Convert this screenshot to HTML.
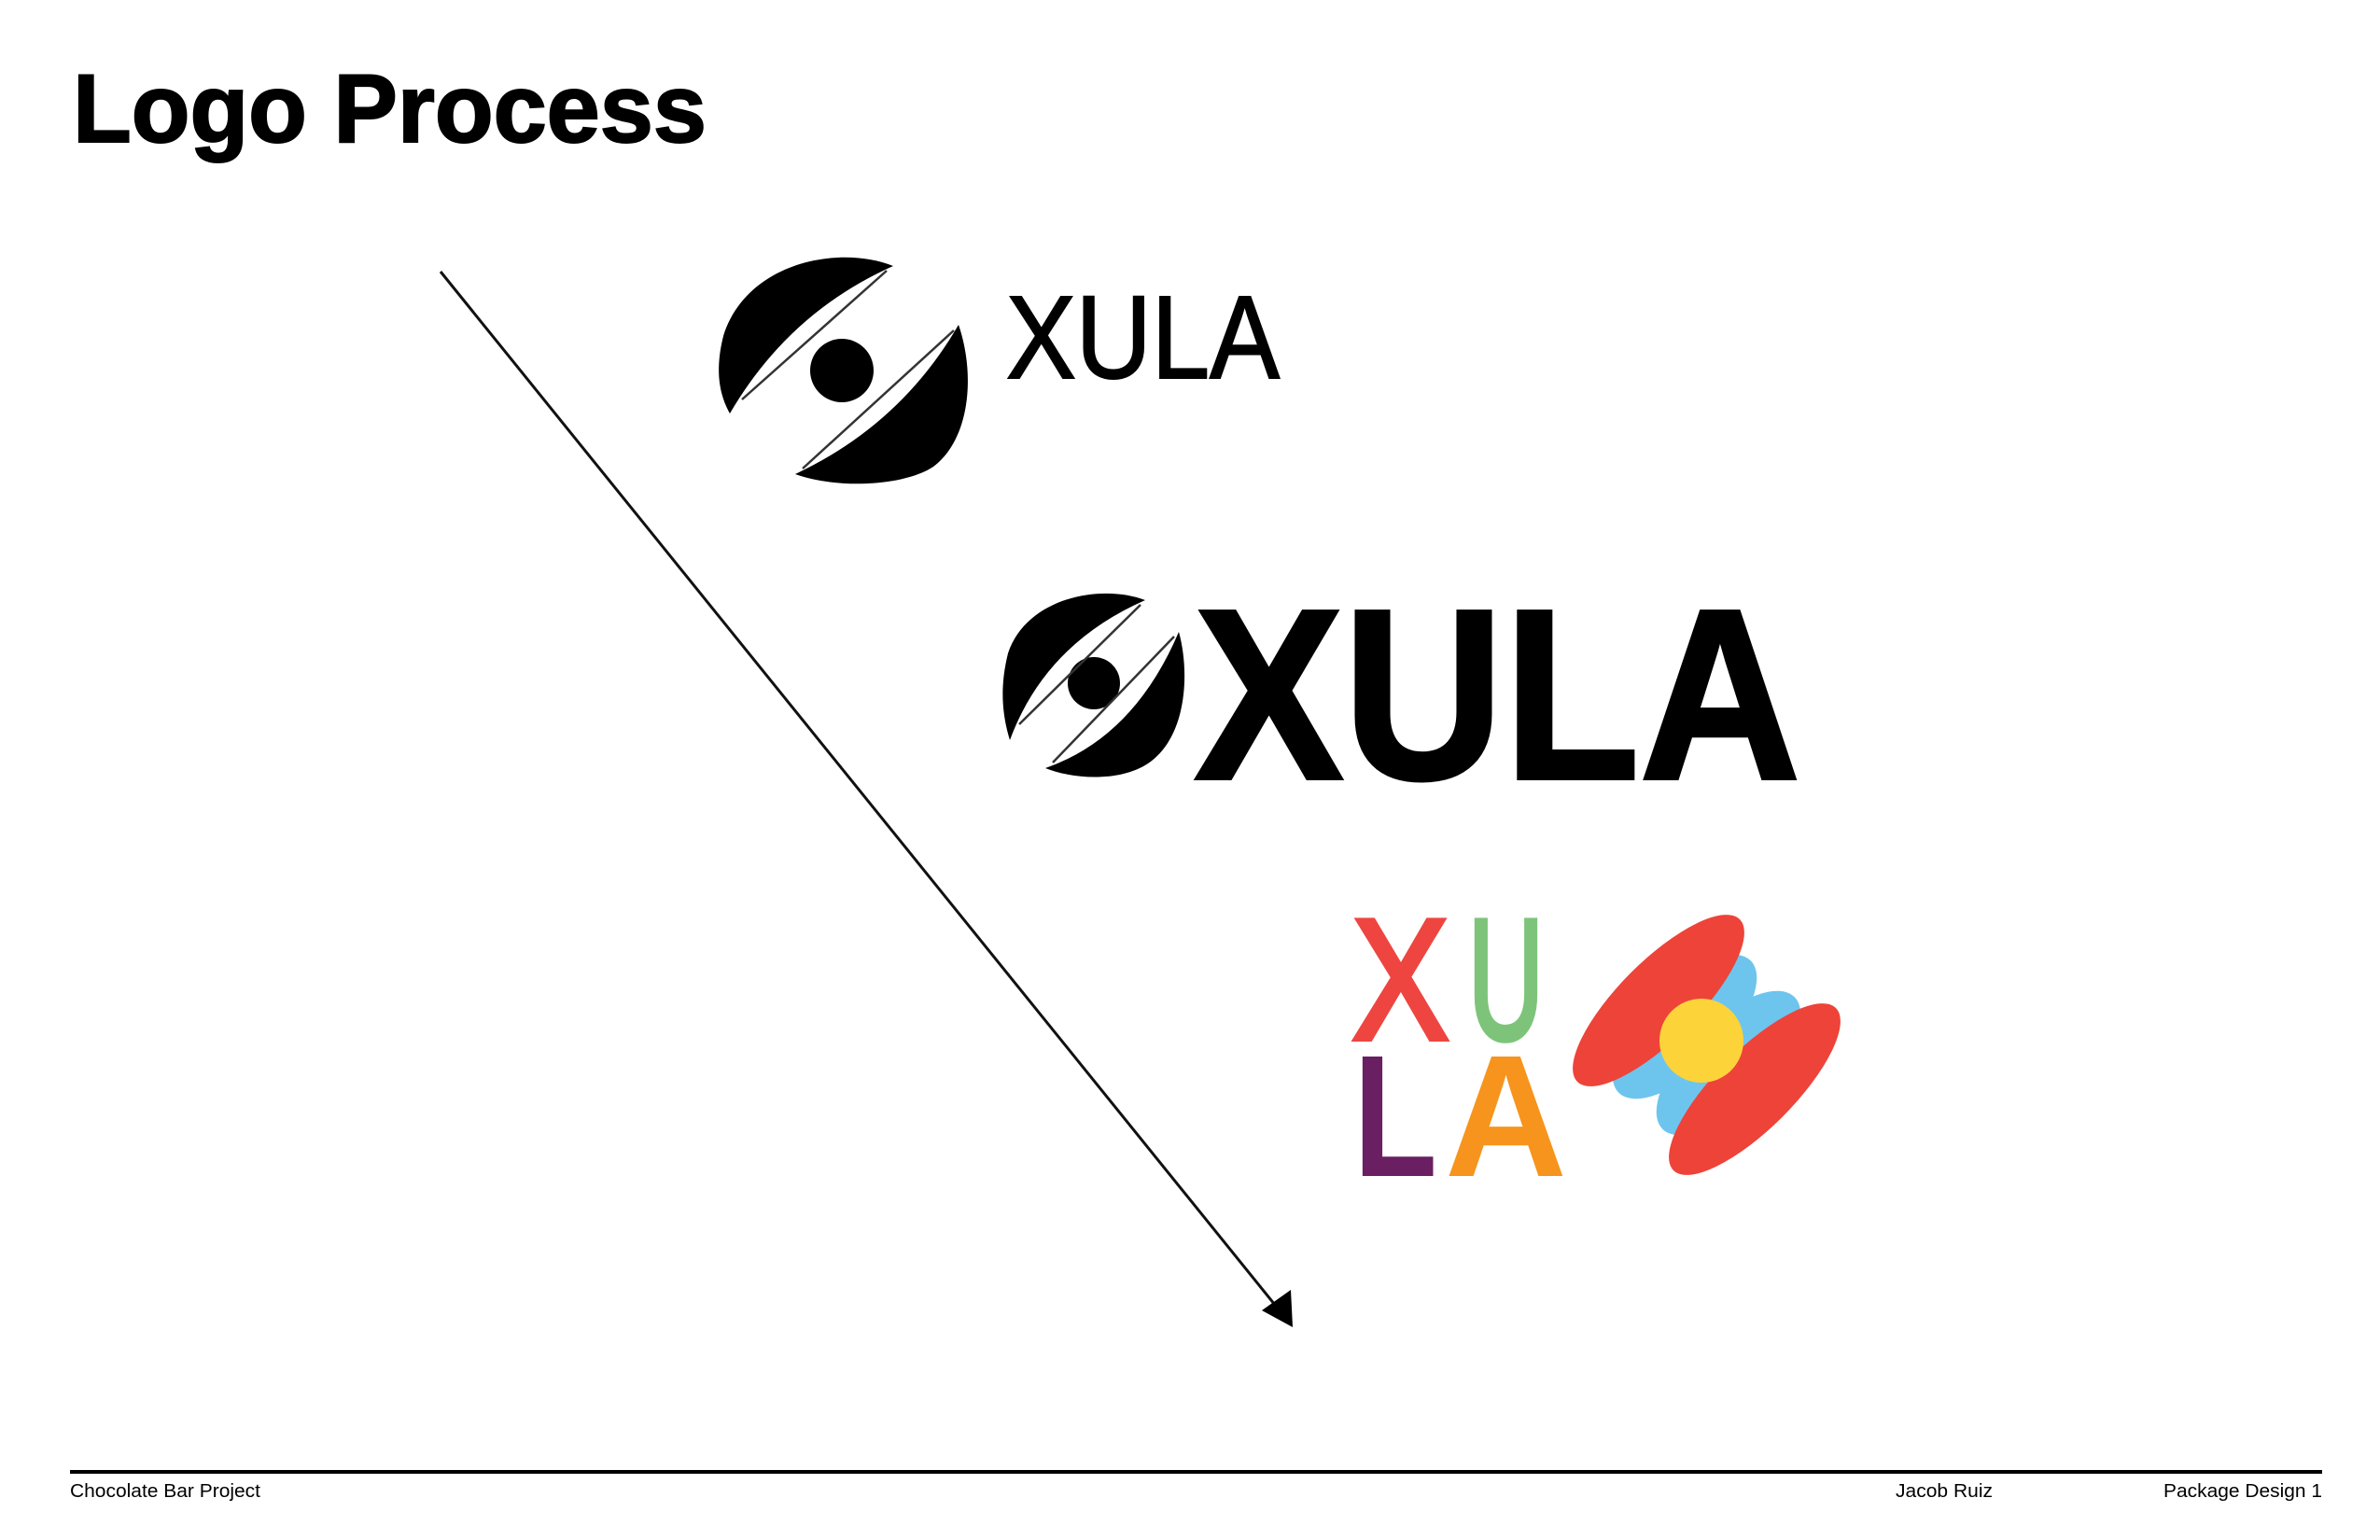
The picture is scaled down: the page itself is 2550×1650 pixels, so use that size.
<!DOCTYPE html>
<html><head><meta charset="utf-8"><style>
html,body{margin:0;padding:0;background:#fff;}
svg{display:block;}
</style></head><body>
<svg width="2550" height="1650" viewBox="0 0 2550 1650" xmlns="http://www.w3.org/2000/svg">
<rect width="2550" height="1650" fill="#fff"/>
<text x="78" y="152" font-family="Liberation Sans, sans-serif" font-weight="bold" font-size="104" textLength="679" lengthAdjust="spacingAndGlyphs" fill="#000" stroke="#000" stroke-width="2">Logo Process</text>

<!-- arrow -->
<line x1="472" y1="291" x2="1370" y2="1403" stroke="#111" stroke-width="3"/>
<polygon points="1385,1422 1352,1404 1383,1382" fill="#000"/>

<!-- logo 1 -->
<g fill="#000">
<path d="M957,285 C900,262 800,280 775,360 C765,400 772,425 782,443 Q845,335 957,285 Z"/>
<path d="M1027,348 C1045,400 1040,470 1000,500 C970,520 900,525 852,508 Q965,455 1027,348 Z"/>
<circle cx="902" cy="397" r="34"/>
</g>
<line x1="795" y1="428" x2="950" y2="290" stroke="#333" stroke-width="2.5"/>
<line x1="860" y1="502" x2="1022" y2="354" stroke="#333" stroke-width="2.5"/>
<text x="1078" y="405" font-family="Liberation Sans, sans-serif" font-size="126" textLength="293" lengthAdjust="spacingAndGlyphs" fill="#000" stroke="#000" stroke-width="2">XULA</text>

<!-- logo 2 -->
<g fill="#000">
<path d="M1227,643 C1180,625 1100,640 1080,700 C1070,740 1075,770 1082,793 Q1120,690 1227,643 Z"/>
<path d="M1263,677 C1275,720 1272,790 1230,818 C1200,838 1150,835 1120,823 Q1215,790 1263,677 Z"/>
<circle cx="1172" cy="732" r="28"/>
</g>
<line x1="1092" y1="776" x2="1222" y2="648" stroke="#333" stroke-width="2.5"/>
<line x1="1128" y1="817" x2="1258" y2="682" stroke="#333" stroke-width="2.5"/>
<text x="1280" y="834" font-family="Liberation Sans, sans-serif" font-weight="bold" font-size="260" textLength="649" lengthAdjust="spacingAndGlyphs" fill="#000" stroke="#000" stroke-width="4">XULA</text>

<!-- logo 3 -->
<text x="1449" y="1113" font-family="Liberation Sans, sans-serif" font-size="184" textLength="103" lengthAdjust="spacingAndGlyphs" fill="#ee4540" stroke="#ee4540" stroke-width="6">X</text>
<text x="1573" y="1113" font-family="Liberation Sans, sans-serif" font-size="184" textLength="81" lengthAdjust="spacingAndGlyphs" fill="#7dc47a" stroke="#7dc47a" stroke-width="6">U</text>
<text x="1450" y="1260" font-family="Liberation Sans, sans-serif" font-weight="bold" font-size="186" textLength="90" lengthAdjust="spacingAndGlyphs" fill="#6a1f63">L</text>
<text x="1548" y="1260" font-family="Liberation Sans, sans-serif" font-weight="bold" font-size="186" textLength="131" lengthAdjust="spacingAndGlyphs" fill="#f7941d">A</text>

<ellipse cx="1805" cy="1100" rx="100" ry="44" transform="rotate(-45 1805 1100)" fill="#6dc5ee"/>
<ellipse cx="1852" cy="1139" rx="100" ry="44" transform="rotate(-45 1852 1139)" fill="#6dc5ee"/>
<ellipse cx="1777" cy="1072" rx="123" ry="42" transform="rotate(-45 1777 1072)" fill="#ee4339"/>
<ellipse cx="1880" cy="1167" rx="123" ry="42" transform="rotate(-45 1880 1167)" fill="#ee4339"/>
<circle cx="1823" cy="1115" r="45" fill="#fdd33a"/>

<!-- footer -->
<rect x="75" y="1575" width="2413" height="4" fill="#000"/>
<text x="75" y="1604" font-family="Liberation Sans, sans-serif" font-size="20" textLength="204" lengthAdjust="spacingAndGlyphs" fill="#000">Chocolate Bar Project</text>
<text x="2031" y="1604" font-family="Liberation Sans, sans-serif" font-size="20" textLength="104" lengthAdjust="spacingAndGlyphs" fill="#000">Jacob Ruiz</text>
<text x="2318" y="1604" font-family="Liberation Sans, sans-serif" font-size="20" textLength="170" lengthAdjust="spacingAndGlyphs" fill="#000">Package Design 1</text>
</svg>
</body></html>
